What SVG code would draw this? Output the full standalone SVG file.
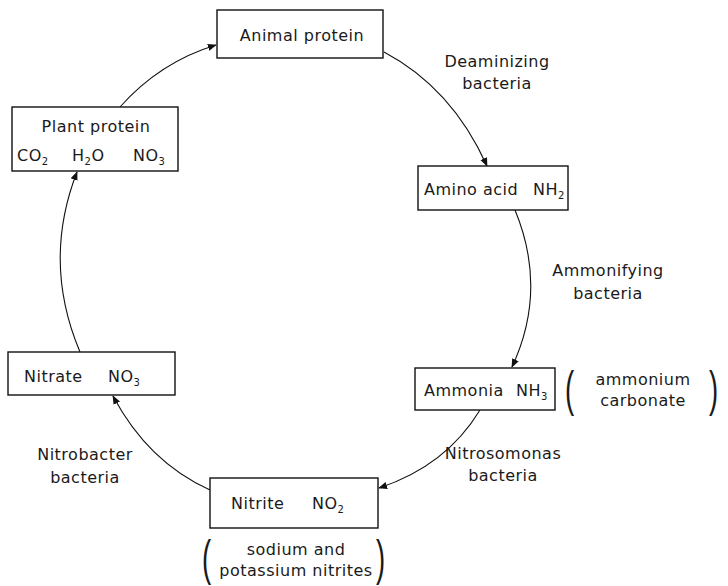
<svg xmlns="http://www.w3.org/2000/svg" width="728" height="586" viewBox="0 0 728 586">
<defs>
<marker id="arr" viewBox="0 0 10 10" refX="9" refY="5" markerWidth="9" markerHeight="9" markerUnits="userSpaceOnUse" orient="auto">
<path d="M0,1 L10,5 L0,9 Z" fill="#111"/>
</marker>
<style>
.box{fill:#fff;stroke:#111;stroke-width:1.4}
.t{font-family:"DejaVu Sans","Liberation Sans",sans-serif;font-size:16px;letter-spacing:0.5px;fill:#1a1a1a}
.m{text-anchor:middle}
.s{font-size:10px}
.p{font-family:"Liberation Sans",sans-serif;font-size:50px;fill:#1a1a1a}
.c{fill:none;stroke:#111;stroke-width:1.1;marker-end:url(#arr)}
</style>
</defs>
<rect width="728" height="586" fill="#fff"/>
<g id="connectors">
<path class="c" d="M384,52 Q452,88 487,166"/>
<path class="c" d="M515,210 Q548,290 512,367"/>
<path class="c" d="M480,410 Q446,466 379,488"/>
<path class="c" d="M210,490 Q148,462 113,396"/>
<path class="c" d="M80,352 Q42,262 77,172"/>
<path class="c" d="M120,107 Q160,62 216,45"/>
</g>
<g id="animal-protein">
<rect class="box" x="217" y="10" width="166" height="48"/>
<text class="t m" x="302" y="41">Animal protein</text>
</g>
<g id="plant-protein">
<rect class="box" x="12" y="107" width="166" height="64"/>
<text class="t m" x="96" y="132">Plant protein</text>
<text class="t" x="17" y="161">CO<tspan class="s" dy="4">2</tspan><tspan dy="-4" x="72">H</tspan><tspan class="s" dy="4">2</tspan><tspan dy="-4">O</tspan><tspan x="133">NO</tspan><tspan class="s" dy="4">3</tspan></text>
</g>
<g id="amino-acid">
<rect class="box" x="418" y="166" width="150" height="44"/>
<text class="t" x="424" y="195">Amino acid<tspan x="533">NH</tspan><tspan class="s" dy="4">2</tspan></text>
</g>
<g id="ammonia">
<rect class="box" x="415" y="368" width="140" height="42"/>
<text class="t" x="424" y="396">Ammonia<tspan x="516">NH</tspan><tspan class="s" dy="4">3</tspan></text>
<text class="p" transform="translate(565,406) scale(0.55,1)">(</text>
<text class="p" transform="translate(709,406) scale(0.55,1)">)</text>
<text class="t m" x="643" y="385">ammonium</text>
<text class="t m" x="643" y="406">carbonate</text>
</g>
<g id="nitrite">
<rect class="box" x="210" y="478" width="168" height="50"/>
<text class="t" x="231" y="509">Nitrite<tspan x="312">NO</tspan><tspan class="s" dy="4">2</tspan></text>
<text class="p" transform="translate(202,575) scale(0.55,1)">(</text>
<text class="p" transform="translate(376,575) scale(0.55,1)">)</text>
<text class="t m" x="296" y="555">sodium and</text>
<text class="t m" x="296" y="576">potassium nitrites</text>
</g>
<g id="nitrate">
<rect class="box" x="8" y="352" width="167" height="43"/>
<text class="t" x="24" y="382">Nitrate<tspan x="108">NO</tspan><tspan class="s" dy="4">3</tspan></text>
</g>
<g id="labels">
<text class="t m" x="497" y="67">Deaminizing</text>
<text class="t m" x="497" y="89">bacteria</text>
<text class="t m" x="608" y="276">Ammonifying</text>
<text class="t m" x="608" y="299">bacteria</text>
<text class="t m" x="503" y="459">Nitrosomonas</text>
<text class="t m" x="503" y="481">bacteria</text>
<text class="t m" x="85" y="460">Nitrobacter</text>
<text class="t m" x="85" y="483">bacteria</text>
</g>
</svg>
